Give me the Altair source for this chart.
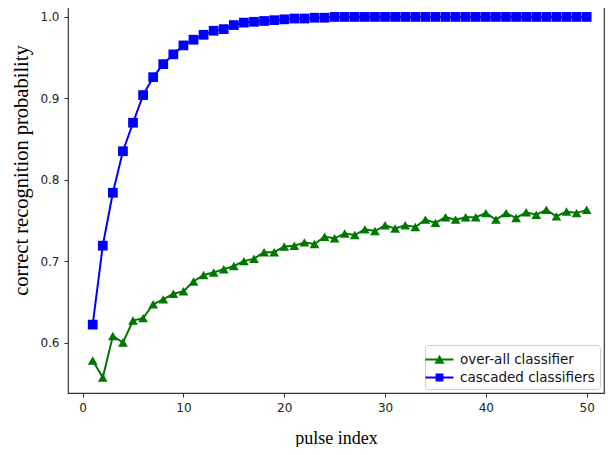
import altair as alt
import pandas as pd

pulse = list(range(1, 51))
overall = [0.578, 0.557, 0.608, 0.600, 0.627, 0.630, 0.647, 0.653, 0.660, 0.663,
           0.675, 0.683, 0.686, 0.690, 0.694, 0.700, 0.703, 0.711, 0.711, 0.718,
           0.719, 0.723, 0.721, 0.730, 0.728, 0.734, 0.732, 0.739, 0.737, 0.744,
           0.740, 0.744, 0.742, 0.751, 0.747, 0.754, 0.751, 0.754, 0.754, 0.759,
           0.751, 0.759, 0.753, 0.760, 0.757, 0.763, 0.755, 0.761, 0.759, 0.763]
cascaded = [0.622, 0.719, 0.784, 0.835, 0.870, 0.904, 0.926, 0.942, 0.954, 0.965,
            0.972, 0.978, 0.983, 0.985, 0.990, 0.993, 0.994, 0.995, 0.996, 0.997,
            0.998, 0.998, 0.999, 0.999, 1.0, 1.0, 1.0, 1.0, 1.0, 1.0,
            1.0, 1.0, 1.0, 1.0, 1.0, 1.0, 1.0, 1.0, 1.0, 1.0,
            1.0, 1.0, 1.0, 1.0, 1.0, 1.0, 1.0, 1.0, 1.0, 1.0]
series_names = ["over-all classifier", "cascaded classifiers"]
series_colors = ["#007700", "#0000ff"]
series_shapes = ["triangle-up", "square"]

df = pd.concat([
    pd.DataFrame({"pulse": pulse, "prob": overall, "series": series_names[0]}),
    pd.DataFrame({"pulse": pulse, "prob": cascaded, "series": series_names[1]}),
])

xs = alt.X("pulse:Q", scale=alt.Scale(domain=[-1.45, 51.72], nice=False, zero=False),
           axis=alt.Axis(values=[0, 10, 20, 30, 40, 50], title="pulse index",
                         titleFont="Liberation Serif", titleFontSize=18,
                         titleFontWeight="normal", titleColor="black", titlePadding=16))
ys = alt.Y("prob:Q", scale=alt.Scale(domain=[0.538, 1.022], nice=False, zero=False),
           axis=alt.Axis(values=[0.6, 0.7, 0.8, 0.9, 1.0], format=".1f",
                         title="correct recognition probability",
                         titleFont="Liberation Serif", titleFontSize=20.5,
                         titleFontWeight="normal", titleColor="black",
                         titlePadding=8, titleY=171))

# legend symbols: short (filled, thin) line with the marker on it
legend_paths = ["M-1.5,-0.1H1.5V0.1H-1.5Z M0,-0.5L0.55,0.45L-0.55,0.45Z",
                "M-1.5,-0.1H1.5V0.1H-1.5Z M-0.42,-0.42H0.42V0.42H-0.42Z"]

legend = alt.Legend(
    title=None, orient="bottom-right", offset=4,
    labelFont="DejaVu Sans", labelFontSize=13.5, labelColor="#111",
    symbolSize=350, symbolStrokeWidth=0, symbolOpacity=1,
    labelOffset=11, rowPadding=2,
    fillColor="white", strokeColor="#cccccc", cornerRadius=3, padding=5,
)

color_scale = alt.Scale(domain=series_names, range=series_colors)

base = alt.Chart(df)
lines = base.mark_line(strokeWidth=2).encode(
    x=xs, y=ys, color=alt.Color("series:N", scale=color_scale, legend=None),
    detail="series:N")
points = base.mark_point(filled=True, opacity=1, size=95).encode(
    x=xs, y=ys,
    color=alt.Color("series:N", scale=color_scale, legend=None),
    shape=alt.Shape("series:N", scale=alt.Scale(domain=series_names, range=series_shapes),
                    legend=None),
)
legend_layer = base.transform_filter("false").mark_point(filled=True, opacity=1).encode(
    x=xs, y=ys,
    color=alt.Color("series:N", scale=color_scale, sort=series_names, legend=legend),
    shape=alt.Shape("series:N", scale=alt.Scale(domain=series_names, range=legend_paths),
                    sort=series_names, legend=legend),
)

chart = alt.layer(lines, points, legend_layer).resolve_scale(
    shape="independent"
).resolve_legend(color="independent", shape="independent").properties(
    width=536, height=394,
    autosize=alt.AutoSizeParams(type="none"),
    padding={"left": 60, "top": -9, "right": 1, "bottom": 54},
).configure_view(stroke="#333333", strokeWidth=1.2).configure_axis(
    grid=False, domain=False, tickColor="#333333", tickSize=4,
    labelFont="DejaVu Sans", labelFontSize=12, labelColor="#222222", labelPadding=5,
)

chart.save("out.html", embed_options={"renderer": "svg", "actions": False})
